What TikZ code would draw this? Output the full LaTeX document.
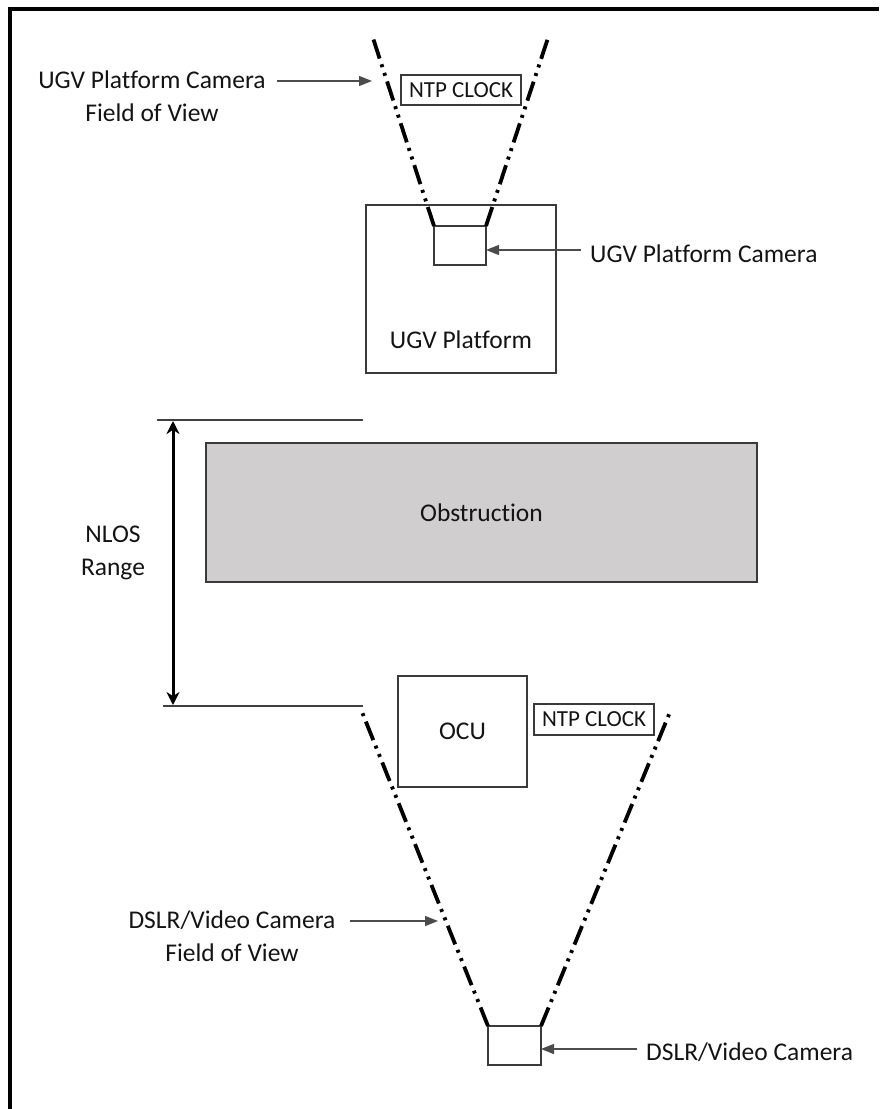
\documentclass[tikz,border=0pt]{standalone}
\usepackage{fontspec}
\setmainfont{Carlito}[Ligatures={NoCommon}]
\usetikzlibrary{arrows.meta}
\definecolor{inkc}{HTML}{141414}
\definecolor{boxc}{HTML}{3A3A3A}
\definecolor{obsfill}{HTML}{D0CECE}
\tikzset{
  lbl/.style={inner sep=0pt, align=center, text=inkc, font=\fontsize{25.5}{33}\selectfont},
  box/.style={draw=boxc, line width=1.8pt, inner sep=0pt, outer sep=0pt, text=inkc,
              font=\fontsize{25.5}{33}\selectfont},
  clockbox/.style={box, line width=1.6pt, font=\fontsize{23}{27}\selectfont},
  fov/.style={draw=black, line width=3.8pt,
              dash pattern=on 20pt off 6pt on 3pt off 6pt on 3pt off 6pt},
  pointer/.style={draw=black!70, line width=1.4pt, -{Triangle[length=13pt,width=10pt]}},
  rangeline/.style={draw=black!75, line width=1.6pt},
  rangearrow/.style={draw=black, line width=3pt,
                     {Stealth[length=13pt,width=13pt]}-{Stealth[length=13pt,width=13pt]}},
}
\begin{document}
\begin{tikzpicture}[x=1pt,y=-1pt]
\useasboundingbox (0,0) rectangle (879,1109);

% frame (open on the right and bottom)
\draw[line width=4pt, black] (10,1109) -- (10,9) -- (879,9);

% UGV platform and its camera
\node[box, minimum width=190pt, minimum height=168pt] (platform) at (461,289) {};
\node[lbl] (platformtxt) at (461,340) {UGV Platform};
\node[box, fill=white, minimum width=52pt, minimum height=39pt] (ugvcam) at (460,245.5) {};
\node[clockbox, minimum width=120pt, minimum height=30pt] (clocktop) at (461,90) {NTP CLOCK};

% camera field of view (top), drawn outward from the camera
\coordinate (fovTL) at (372,35);
\coordinate (fovTR) at (549,35);
\draw[fov] (ugvcam.north west) -- (fovTL);
\draw[fov] (ugvcam.north east) -- (fovTR);

% labels with pointers (top)
\node[lbl] (fovtoplbl) at (152,96) {UGV Platform Camera\\Field of View};
\coordinate (p1s) at (277,81);
\coordinate (p1e) at (372,81);
\draw[pointer] (p1s) -- (p1e);

\node[lbl, anchor=west] (ugvcamlbl) at (590,254) {UGV Platform Camera};
\coordinate (p2s) at (581,250);
\draw[pointer] (p2s) -- (p2s -| ugvcam.east);

% obstruction
\node[box, fill=obsfill, minimum width=551pt, minimum height=139pt] (obs) at (481.5,512.5) {Obstruction};

% NLOS range
\coordinate (rtopL) at (157,420);
\coordinate (rtopR) at (363,420);
\coordinate (rbotL) at (163,706);
\coordinate (rbotR) at (363,706);
\draw[rangeline] (rtopL) -- (rtopR);
\draw[rangeline] (rbotL) -- (rbotR);
\coordinate (ra) at (173,421);
\coordinate (rb) at (173,705);
\draw[rangearrow] (ra) -- (rb);
\node[lbl] (nloslbl) at (113,553) {NLOS\\Range};

% OCU and its clock
\node[box, minimum width=129pt, minimum height=111pt] (ocu) at (462.5,731.5) {OCU};
\node[clockbox, minimum width=120pt, minimum height=31pt] (clockbot) at (594,719.5) {NTP CLOCK};

% DSLR / video camera and its field of view
\node[box, fill=white, minimum width=53pt, minimum height=39pt] (dslr) at (514.5,1045.5) {};
\coordinate (fovBL) at (362,712);
\coordinate (fovBR) at (670,712);
\draw[fov] (dslr.north west) -- (fovBL);
\draw[fov] (dslr.north east) -- (fovBR);

\node[lbl] (fovbotlbl) at (232,936) {DSLR/Video Camera\\Field of View};
\coordinate (p3s) at (350,921);
\coordinate (p3e) at (438,921);
\draw[pointer] (p3s) -- (p3e);

\node[lbl, anchor=west] (dslrlbl) at (646,1052) {DSLR/Video Camera};
\coordinate (p4s) at (637,1049);
\draw[pointer] (p4s) -- (p4s -| dslr.east);
\end{tikzpicture}
\end{document}
